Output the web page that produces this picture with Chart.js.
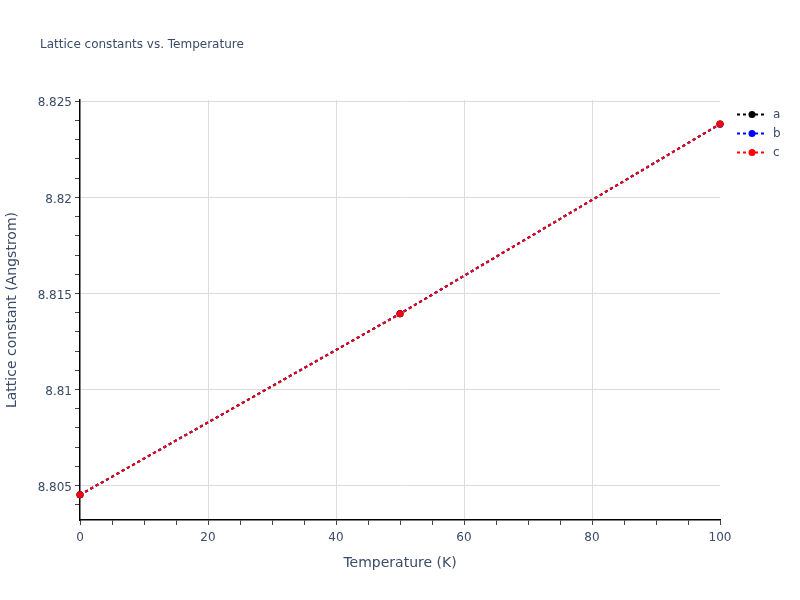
<!DOCTYPE html>
<html>
<head>
<meta charset="utf-8">
<script src="https://cdn.jsdelivr.net/npm/chart.js@4.4.0/dist/chart.umd.min.js"></script>
<style>
  html, body { margin: 0; padding: 0; background: #fff; }
  #wrap { width: 800px; height: 600px; }
</style>
</head>
<body>
<div id="wrap"><canvas id="c" width="800" height="600"></canvas></div>
<script>
// data
var temperatures = [0, 50, 100];
var latticeA = [8.80452, 8.81394, 8.82382];
var latticeB = [8.80452, 8.81395, 8.82381];
var latticeC = [8.80452, 8.81394, 8.82382];
var seriesNames = ['a', 'b', 'c'];
var seriesColors = ['#000000', '#0000ff', '#ff0000'];

var xMajorTicks = [0, 20, 40, 60, 80, 100];
var xMinorTicks = [0, 5, 10, 15, 20, 25, 30, 35, 40, 45, 50, 55, 60, 65, 70, 75, 80, 85, 90, 95, 100];
var yMajorTicks = [8.805, 8.81, 8.815, 8.82, 8.825];
var yMinorTicks = [8.804, 8.805, 8.806, 8.807, 8.808, 8.809, 8.81, 8.811, 8.812, 8.813, 8.814,
                   8.815, 8.816, 8.817, 8.818, 8.819, 8.82, 8.821, 8.822, 8.823, 8.824, 8.825];

var FONT = '"DejaVu Sans", Verdana, sans-serif';
var TXT = '#3b4b68';

function isMajor(v, list) {
  return list.some(function (m) { return Math.abs(m - v) < 1e-7; });
}

function makeSet(name, vals, col, ord) {
  return {
    label: name,
    order: ord,
    data: temperatures.map(function (t, i) { return { x: t, y: vals[i] }; }),
    borderColor: col,
    backgroundColor: col,
    pointBackgroundColor: col,
    pointBorderColor: col,
    pointRadius: 3.5,
    pointBorderWidth: 0,
    borderWidth: 2,
    borderDash: [3, 3],
    fill: false,
    tension: 0,
    clip: false
  };
}

// title and legend drawn plotly-style
var decor = {
  id: 'decor',
  afterDraw: function (chart) {
    var ctx = chart.ctx;
    ctx.save();
    ctx.fillStyle = TXT;
    ctx.font = '12px ' + FONT;
    ctx.textBaseline = 'middle';
    ctx.textAlign = 'left';
    ctx.fillText('Lattice constants vs. Temperature', 40, 45);

    for (var i = 0; i < seriesNames.length; i++) {
      var y = 114.5 + i * 19;
      ctx.strokeStyle = seriesColors[i];
      ctx.lineWidth = 2;
      ctx.setLineDash([3, 3]);
      ctx.beginPath();
      ctx.moveTo(737, y);
      ctx.lineTo(766, y);
      ctx.stroke();
      ctx.setLineDash([]);
      ctx.fillStyle = seriesColors[i];
      ctx.beginPath();
      ctx.arc(752, y, 3.5, 0, Math.PI * 2);
      ctx.fill();
      ctx.fillStyle = TXT;
      ctx.font = '12px ' + FONT;
      ctx.fillText(seriesNames[i], 773, y);
    }
    ctx.restore();
  }
};

new Chart(document.getElementById('c'), {
  type: 'line',
  data: {
    datasets: [
      makeSet(seriesNames[0], latticeA, seriesColors[0], 3),
      makeSet(seriesNames[1], latticeB, seriesColors[1], 2),
      makeSet(seriesNames[2], latticeC, seriesColors[2], 1)
    ]
  },
  options: {
    responsive: false,
    animation: false,
    devicePixelRatio: 1,
    layout: { padding: { left: 0, top: 100, right: 80, bottom: 0 } },
    plugins: {
      legend: { display: false },
      title: { display: false },
      tooltip: { enabled: false }
    },
    scales: {
      x: {
        type: 'linear',
        min: 0,
        max: 100,
        afterFit: function (s) { s.height = 80; },
        afterBuildTicks: function (s) {
          s.ticks = xMinorTicks.map(function (v) { return { value: v }; });
        },
        border: { display: true, color: '#000', width: 1.5 },
        grid: {
          color: function (c) {
            if (!c.tick) return 'rgba(0,0,0,0)';
            var v = c.tick.value;
            return (isMajor(v, xMajorTicks) && v !== 0 && v !== 100) ? '#dcdcdc' : 'rgba(0,0,0,0)';
          },
          tickColor: '#444',
          tickLength: 5,
          lineWidth: 1
        },
        ticks: {
          autoSkip: false,
          maxRotation: 0,
          padding: 6,
          color: TXT,
          font: { family: FONT, size: 12 },
          callback: function (v) { return isMajor(v, xMajorTicks) ? String(v) : ''; }
        },
        title: {
          display: true,
          text: 'Temperature (K)',
          color: TXT,
          font: { family: FONT, size: 14 },
          padding: { top: 0, bottom: 28 }
        }
      },
      y: {
        type: 'linear',
        min: 8.80321,
        max: 8.82507,
        afterFit: function (s) { s.width = 80; },
        afterBuildTicks: function (s) {
          s.ticks = yMinorTicks.filter(function (v) { return v >= s.min && v <= s.max; })
            .map(function (v) { return { value: v }; });
        },
        border: { display: true, color: '#000', width: 1.5 },
        grid: {
          color: function (c) {
            if (!c.tick) return 'rgba(0,0,0,0)';
            return isMajor(c.tick.value, yMajorTicks) ? '#dcdcdc' : 'rgba(0,0,0,0)';
          },
          tickColor: '#444',
          tickLength: 5,
          lineWidth: 1
        },
        ticks: {
          autoSkip: false,
          padding: 3,
          labelOffset: 2,
          color: TXT,
          font: { family: FONT, size: 12 },
          callback: function (v) {
            return isMajor(v, yMajorTicks) ? String(parseFloat(v.toFixed(3))) : '';
          }
        },
        title: {
          display: true,
          text: 'Lattice constant (Angstrom)',
          color: TXT,
          font: { family: FONT, size: 14 },
          padding: { top: 4, bottom: 0 }
        }
      }
    }
  },
  plugins: [decor]
});
</script>
</body>
</html>
